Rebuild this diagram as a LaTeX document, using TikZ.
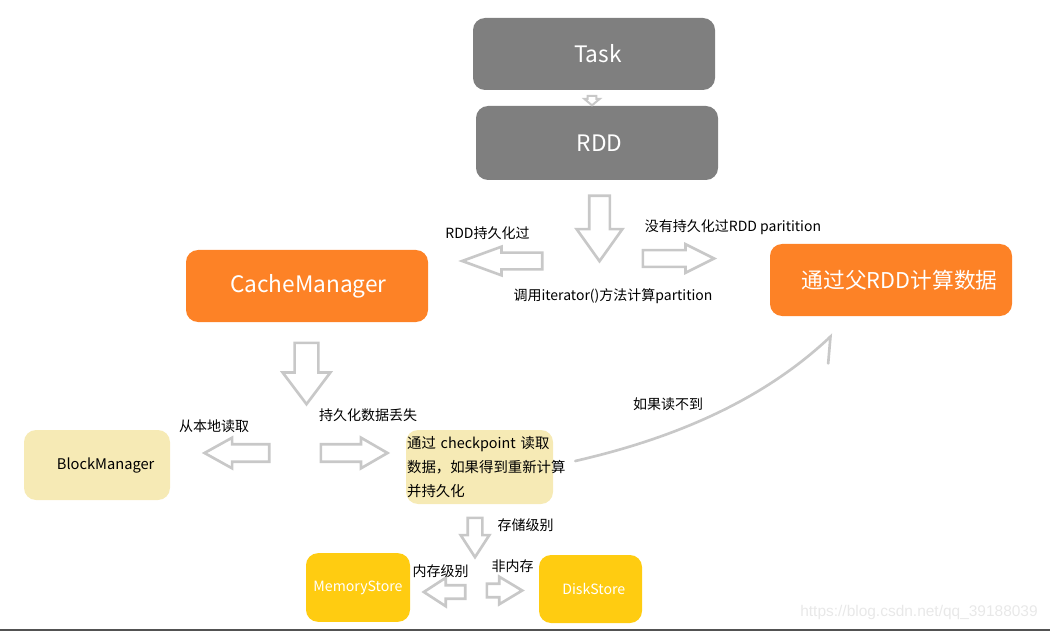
\documentclass[tikz,border=0pt]{standalone}
\usepackage{fontspec}
\setmainfont{Noto Sans CJK SC}
\newfontfamily\urlfont{Liberation Sans}
\usetikzlibrary{shapes.arrows, arrows.meta}

\definecolor{boxgray}{RGB}{127,127,127}
\definecolor{boxorange}{RGB}{253,130,38}
\definecolor{boxcream}{RGB}{246,234,181}
\definecolor{boxgold}{RGB}{255,204,17}
\definecolor{arrowgray}{RGB}{200,200,200}
\definecolor{markgray}{RGB}{232,232,232}

\begin{document}
\begin{tikzpicture}[
    x=0.75pt, y=-0.75pt,
    box/.style={rounded corners=9pt, inner sep=0pt, minimum width=181.5pt, minimum height=54pt},
    graybox/.style={box, fill=boxgray, text=white, font=\fontsize{17}{20}\selectfont},
    orangebox/.style={box, fill=boxorange, text=white, font=\fontsize{17}{20}\selectfont},
    creambox/.style={box, fill=boxcream, font=\fontsize{10.8}{18}\selectfont},
    goldbox/.style={box, fill=boxgold, text=white, minimum width=78pt, minimum height=51.5pt,
                    font=\fontsize{10.6}{13}\selectfont},
    blockarrow/.style={single arrow, draw=arrowgray, line width=2pt, inner xsep=0pt,
                       single arrow head indent=0pt, anchor=tail},
    blk/.style n args={4}{blockarrow, minimum height=#1, inner ysep=#2,
                          single arrow head extend=#3, single arrow tip angle=#4},
    lbl/.style={font=\fontsize{10.5}{12}\selectfont, inner sep=0pt},
    missline/.style={draw=arrowgray, line width=2pt, line cap=round,
                     -{Straight Barb[right, length=15pt, width=27pt, line cap=round]}}
]
    \useasboundingbox (0,0) rectangle (1050,631);

    % top of the chain
    \node[graybox] (task) at (594,54) {\hspace*{6pt}Task};
    \node[graybox, minimum height=55.5pt] (rdd) at (597,143) {\hspace*{4pt}RDD};
    \node[blk={7pt}{2.5pt}{2.5pt}{100}, line width=1.5pt, rotate=-90] (a0) at (592,95) {};

    \node[blk={49pt}{6.75pt}{9.4pt}{71}, rotate=-90] (a1) at (599.5,194.5) {};
    \node[blk={60pt}{5.25pt}{4.5pt}{40}, rotate=180] (a2) at (543.5,261) {};
    \node[blk={53.5pt}{5.25pt}{4.5pt}{53}] (a3) at (641.5,258.5) {};
    \node[lbl] (l2) at (487.5,233) {RDD持久化过};
    \node[lbl] (l3) at (733,227) {没有持久化过RDD paritition};
    \node[lbl] (l1) at (613,296) {调用iterator()方法计算partition};

    \node[orangebox] (cache) at (307,286) {\hspace*{2pt}CacheManager};
    \node[orangebox, font=\fontsize{16.3}{20}\selectfont] (parent) at (891,280)
        {\hspace*{13pt}通过父RDD计算数据};

    % below the CacheManager
    \node[blk={46pt}{7.9pt}{9pt}{74}, rotate=-90] (a4) at (306.5,341.5) {};
    \node[blk={48.5pt}{5.6pt}{4.9pt}{58}, rotate=180] (a5) at (270.5,453) {};
    \node[blk={50pt}{5.6pt}{4.9pt}{60}] (a6) at (319.5,453) {};
    \node[lbl] (l5) at (214,426) {从本地读取};
    \node[lbl] (l6) at (368,415) {持久化数据丢失};

    \node[creambox, minimum width=109.5pt, minimum height=52.5pt, font=\fontsize{11}{13}\selectfont]
        (block) at (97,465) {\hspace*{13pt}BlockManager};
    \node[creambox, minimum width=110.25pt, minimum height=55.5pt, align=left,
          text width=108.6pt, inner xsep=0.8pt] (ckpt) at (479.5,467)
        {通过 checkpoint 读取\\数据，如果得到重新计算\\并持久化};

    \draw[missline] ([xshift=16.5pt, yshift=4.5pt]ckpt.east)
        .. controls (680,437) and (765,398) .. ([xshift=-43.5pt, yshift=-13.5pt]parent.south);
    \node[lbl] (l7) at (668,404) {如果读不到};

    % storage level
    \node[blk={29.5pt}{4.5pt}{5.25pt}{66}, rotate=-90] (a7) at (475,516.5) {};
    \node[lbl] (l8) at (525.5,525) {存储级别};
    \node[goldbox] (mem) at (358,587.5) {MemoryStore};
    \node[goldbox, minimum width=77.25pt, minimum height=51pt] (disk) at (590.5,589)
        {\hspace*{5pt}DiskStore};
    \node[blk={31pt}{4.1pt}{5.6pt}{66}, rotate=180] (a8) at (466.5,592) {};
    \node[blk={26.5pt}{4.1pt}{5.25pt}{62}] (a9) at (485.5,590.5) {};
    \node[lbl] (l9) at (440.5,571) {内存级别};
    \node[lbl] (l10) at (512.5,566) {非内存};

    \node[font=\urlfont\fontsize{11.6}{13}\selectfont, text=markgray, inner sep=0pt]
        (mark) at (919,612) {https://blog.csdn.net/qq\_39188039};
    \draw[line width=1.5pt, color=black!68] (0,629.8) -- (1050,629.8);
\end{tikzpicture}
\end{document}
